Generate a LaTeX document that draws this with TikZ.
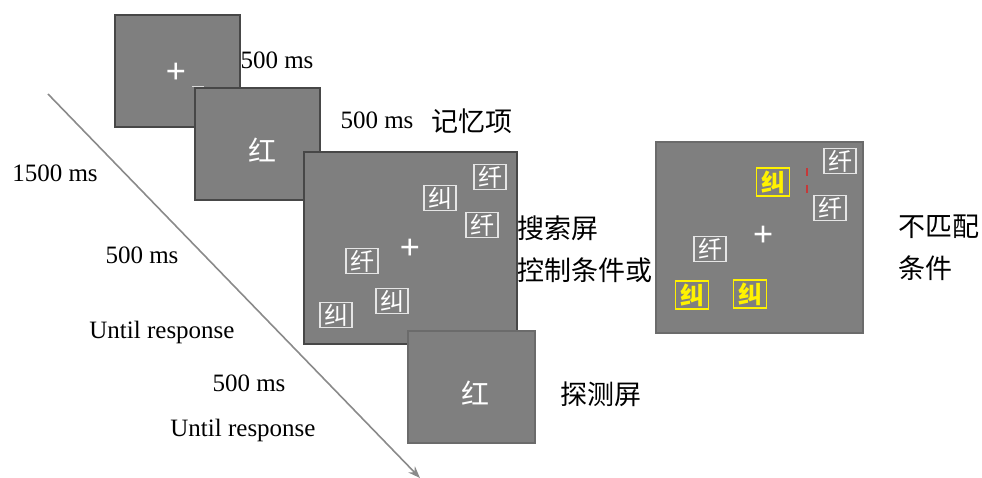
\documentclass[tikz,border=0pt]{standalone}
\usepackage{fontspec}
\setmainfont{Liberation Serif}
\newfontfamily\cjk{Noto Sans CJK SC}
\usetikzlibrary{arrows.meta}
\definecolor{scr}{HTML}{7F7F7F}
\definecolor{timec}{HTML}{8A8A8A}
\begin{document}
\begin{tikzpicture}[x=1pt,y=-1pt,
  screen/.style={draw=black!72,line width=1.6pt,fill=scr,inner sep=0pt},
  screenl/.style={draw=black!58,line width=1.4pt,fill=scr,inner sep=0pt},
  lbl/.style={font=\fontsize{25}{27}\selectfont,inner sep=0pt},
  cn/.style={font=\cjk\fontsize{27}{29}\selectfont,inner sep=0pt},
  big/.style={font=\cjk\fontsize{28}{28}\selectfont,text=white,inner sep=0pt},
  cross/.style={font=\fontsize{36}{36}\selectfont\bfseries,text=white,inner sep=0pt},
  item/.style={draw=white!80!gray,line width=1.4pt,text=white,inner xsep=4pt,inner ysep=1.5pt,
    font=\cjk\fontsize{24}{24}\selectfont},
  yitem/.style={draw=yellow,line width=1.8pt,text=yellow,inner xsep=4.5pt,inner ysep=2.5pt,
    font=\cjk\bfseries\fontsize{24}{24}\selectfont},
  timeline/.style={draw=timec,line width=1.6pt,-{Stealth[length=12pt,width=9pt]}}]
\useasboundingbox (0,0) rectangle (982,478);
% timeline
\coordinate (a0) at (48,94);
\coordinate (a1) at (420,478);
\draw[timeline] (a0) -- (a1);
% screens
\node[screen,minimum width=125pt,minimum height=112pt] (s1) at (177.5,71) {};
\node[cross] (fix) at (176,73) {+};
\coordinate (d0) at (192,87); \coordinate (d1) at (204,87);
\draw[white!70!gray,line width=1pt] (d0) -- (d1);
\node[screen,minimum width=125pt,minimum height=112pt] (s2) at (257.5,144) {};
\node[big] (m) at (262,150) {红};
\node[screen,minimum width=213pt,minimum height=192pt] (s3) at (410.5,248) {};
\node[item] (c1) at (490,177) {纤};
\node[item] (c2) at (440,198) {纠};
\node[item] (c3) at (482,225) {纤};
\node[cross] (c0) at (410,249) {+};
\node[item] (c4) at (362,261) {纤};
\node[item] (c5) at (392,301) {纠};
\node[item] (c6) at (336,315) {纠};
\node[screenl,minimum width=127pt,minimum height=112pt] (s4) at (471.5,387) {};
\node[big] (p) at (475,393) {红};
\node[screenl,minimum width=207pt,minimum height=191pt] (s5) at (759.5,237.5) {};
\node[yitem] (y1) at (773,182) {纠};
\node[item] (e1) at (840,161) {纤};
\node[item] (e2) at (830,208) {纤};
\node[cross] (e0) at (763,236) {+};
\node[item] (e3) at (710,249) {纤};
\node[yitem] (y2) at (692,295) {纠};
\node[yitem] (y3) at (750,294) {纠};
\coordinate (r0) at (807,168); \coordinate (r1) at (807,196);
\draw[red!55!gray,line width=1.2pt,dash pattern=on 8pt off 9pt] (r0) -- (r1);
% labels
\node[lbl] (t1) at (277,60) {500 ms};
\node[lbl] (t2) at (377,120) {500 ms};
\node[cn] (k1) at (472,121) {记忆项};
\node[lbl] (t3) at (55,173) {1500 ms};
\node[lbl] (t4) at (142,255) {500 ms};
\node[lbl] (t5) at (162,332) {Until response};
\node[lbl] (t6) at (249,383) {500 ms};
\node[lbl] (t7) at (243,430) {Until response};
\node[cn,anchor=west] (k2) at (517,228) {搜索屏};
\node[cn,anchor=west] (k3) at (517,270) {控制条件或};
\node[cn,anchor=west] (k4) at (898,227) {不匹配};
\node[cn,anchor=west] (k5) at (898,268) {条件};
\node[cn] (k6) at (601,394) {探测屏};
\end{tikzpicture}
\end{document}
